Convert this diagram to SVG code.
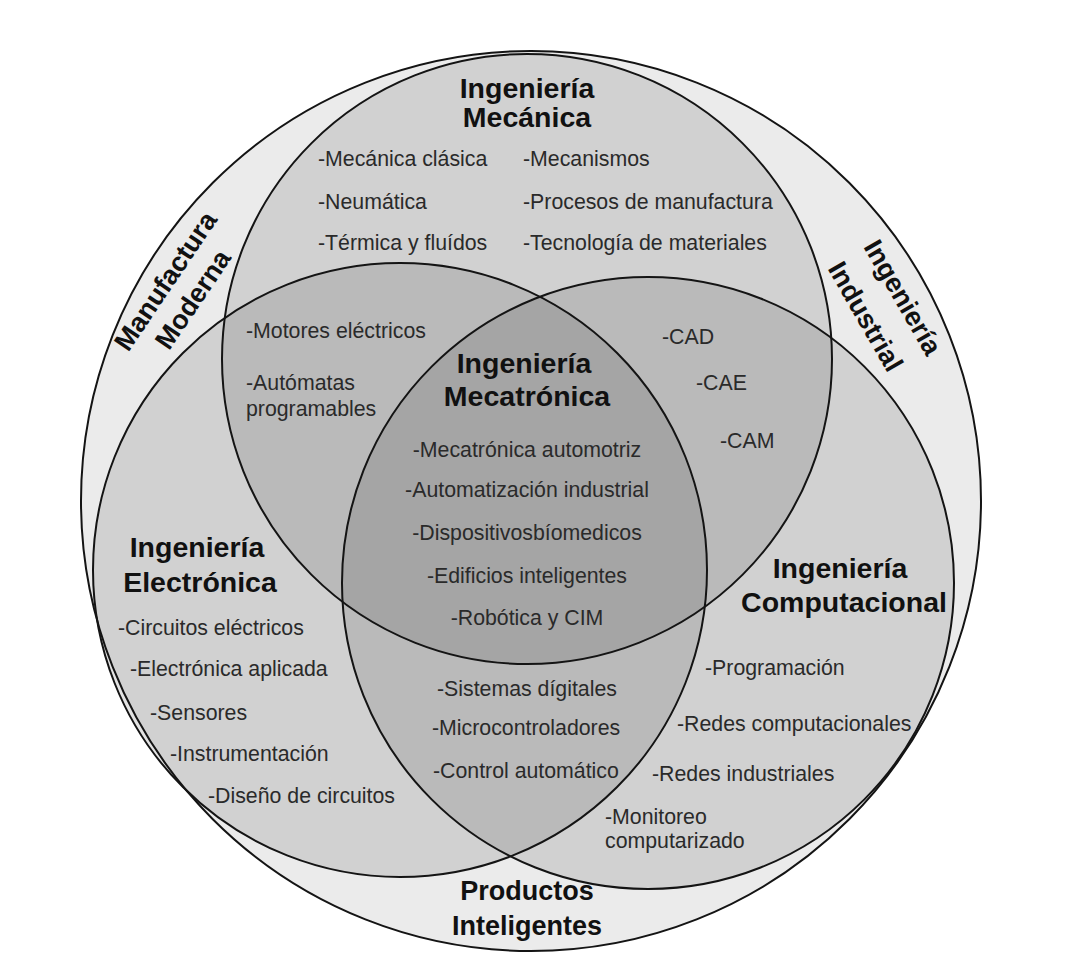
<svg xmlns="http://www.w3.org/2000/svg" width="1070" height="976" viewBox="0 0 1070 976">
  <style>
    .shade { fill: #000; fill-opacity: 0.11; stroke: none; }
    .ring { fill: none; stroke: #141414; stroke-width: 2; }
    .title { font-family: "Liberation Sans", Arial, sans-serif; font-size: 28.5px; font-weight: bold; fill: #111; text-anchor: middle; }
    .outer-title { font-family: "Liberation Sans", Arial, sans-serif; font-size: 27px; font-weight: bold; fill: #111; text-anchor: middle; }
    .item { font-family: "Liberation Sans", Arial, sans-serif; font-size: 21.3px; fill: #2a2a2a; }
    .mid { text-anchor: middle; }
  </style>
  <rect width="1070" height="976" fill="#fff"/>

  <g id="outer">
    <circle cx="531" cy="501" r="450" fill="#ebebeb" stroke="none"/>
  </g>
  <g id="fills">
    <circle class="shade" cx="527" cy="359" r="305"/>
    <circle class="shade" cx="400" cy="570" r="307"/>
    <circle class="shade" cx="648" cy="583" r="306"/>
  </g>
  <g id="outlines">
    <circle class="ring" cx="531" cy="501" r="450"/>
    <circle class="ring" cx="527" cy="359" r="305"/>
    <circle class="ring" cx="400" cy="570" r="307"/>
    <circle class="ring" cx="648" cy="583" r="306"/>
  </g>

  <g id="manufactura-moderna" transform="translate(179,290) rotate(-56)">
    <text class="outer-title" x="0" y="-7">Manufactura</text>
    <text class="outer-title" x="0" y="26">Moderna</text>
  </g>

  <g id="ingenieria-industrial" transform="translate(880,306) rotate(60)">
    <text class="outer-title" x="4" y="-15">Ingeniería</text>
    <text class="outer-title" x="2" y="27">Industrial</text>
  </g>

  <g id="productos-inteligentes">
    <text class="outer-title" x="527" y="900">Productos</text>
    <text class="outer-title" x="527" y="935">Inteligentes</text>
  </g>

  <g id="ing-mecanica">
    <text class="title" x="527" y="98">Ingeniería</text>
    <text class="title" x="527" y="127">Mecánica</text>
    <text class="item" x="318" y="166">-Mecánica clásica</text>
    <text class="item" x="318" y="209">-Neumática</text>
    <text class="item" x="318" y="250">-Térmica y fluídos</text>
    <text class="item" x="523" y="166">-Mecanismos</text>
    <text class="item" x="523" y="209">-Procesos de manufactura</text>
    <text class="item" x="523" y="250">-Tecnología de materiales</text>
  </g>

  <g id="mecanica-electronica">
    <text class="item" x="246" y="338">-Motores eléctricos</text>
    <text class="item" x="246" y="390">-Autómatas</text>
    <text class="item" x="246" y="416">programables</text>
  </g>

  <g id="mecanica-computacional">
    <text class="item" x="662" y="344">-CAD</text>
    <text class="item" x="696" y="390">-CAE</text>
    <text class="item" x="720" y="448">-CAM</text>
  </g>

  <g id="ing-mecatronica">
    <text class="title" x="524" y="373">Ingeniería</text>
    <text class="title" x="527" y="406">Mecatrónica</text>
    <text class="item mid" x="527" y="457">-Mecatrónica automotriz</text>
    <text class="item mid" x="527" y="497">-Automatización industrial</text>
    <text class="item mid" x="527" y="540">-Dispositivosbíomedicos</text>
    <text class="item mid" x="527" y="583">-Edificios inteligentes</text>
    <text class="item mid" x="527" y="625">-Robótica y CIM</text>
  </g>

  <g id="ing-electronica">
    <text class="title" x="197" y="557">Ingeniería</text>
    <text class="title" x="200" y="592">Electrónica</text>
    <text class="item" x="118" y="635">-Circuitos eléctricos</text>
    <text class="item" x="130" y="676">-Electrónica aplicada</text>
    <text class="item" x="150" y="720">-Sensores</text>
    <text class="item" x="170" y="761">-Instrumentación</text>
    <text class="item" x="208" y="803">-Diseño de circuitos</text>
  </g>

  <g id="electronica-computacional">
    <text class="item" x="437" y="696">-Sistemas dígitales</text>
    <text class="item" x="432" y="735">-Microcontroladores</text>
    <text class="item" x="433" y="778">-Control automático</text>
  </g>

  <g id="ing-computacional">
    <text class="title" x="840" y="578">Ingeniería</text>
    <text class="title" x="844" y="612">Computacional</text>
    <text class="item" x="705" y="675">-Programación</text>
    <text class="item" x="677" y="731">-Redes computacionales</text>
    <text class="item" x="652" y="781">-Redes industriales</text>
    <text class="item" x="605" y="824">-Monitoreo</text>
    <text class="item" x="605" y="848">computarizado</text>
  </g>
</svg>
